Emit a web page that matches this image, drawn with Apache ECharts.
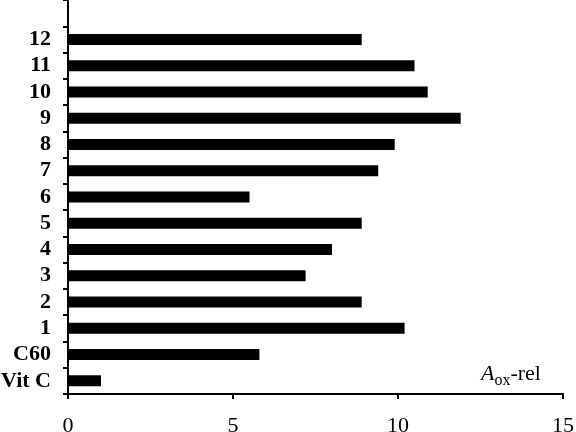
<!DOCTYPE html>
<html>
<head>
<meta charset="utf-8">
<script src="https://cdn.jsdelivr.net/npm/echarts@6/dist/echarts.min.js"></script>
<style>
  html, body { margin: 0; padding: 0; background: #fff; }
  #chart { width: 576px; height: 432px; }
</style>
</head>
<body>
<div id="chart"></div>
<script>
// categories bottom -> top; last slot is left empty in the original
const categories = ['Vit C', 'C60', '1', '2', '3', '4', '5', '6', '7', '8', '9', '10', '11', '12', '']
const aoxRel = [1.0, 5.8, 10.2, 8.9, 7.2, 8.0, 8.9, 5.5, 9.4, 9.9, 11.9, 10.9, 10.5, 8.9, null]
const xTicks = [0, 5, 10, 15]

const serif = '"Liberation Serif", "Times New Roman", serif'

const chart = echarts.init(document.getElementById('chart'))

chart.setOption({
  animation: false,
  backgroundColor: '#fff',
  grid: { left: 68, right: 13, top: 0, bottom: 38, containLabel: false, outerBoundsMode: 'none' },
  xAxis: {
    type: 'value',
    min: xTicks[0],
    max: xTicks[xTicks.length - 1],
    interval: 5,
    axisLine: { show: true, lineStyle: { color: '#000', width: 2 } },
    axisTick: { show: true, inside: false, length: 5, lineStyle: { color: '#000', width: 2 } },
    axisLabel: { color: '#000', fontFamily: serif, fontSize: 22, margin: 21 },
    splitLine: { show: false }
  },
  yAxis: {
    type: 'category',
    data: categories,
    axisLine: { show: true, lineStyle: { color: '#000', width: 2 } },
    axisTick: { show: true, inside: false, length: 5, interval: 0, lineStyle: { color: '#000', width: 2 } },
    axisLabel: {
      interval: 0, color: '#000', fontFamily: serif, fontSize: 22, fontWeight: 'bold',
      margin: 17, padding: [6, 0, 0, 0]
    },
    splitLine: { show: false }
  },
  series: [
    {
      type: 'bar',
      data: aoxRel,
      barWidth: 11,
      itemStyle: { color: '#000' }
    }
  ],
  graphic: [
    {
      type: 'text',
      left: 481,
      top: 363,
      style: {
        text: '{a|A}{s|ox}{r|-rel}',
        rich: {
          a: { fontFamily: serif, fontSize: 22, fontStyle: 'italic', fill: '#000', verticalAlign: 'bottom' },
          s: { fontFamily: serif, fontSize: 16, fill: '#000', verticalAlign: 'bottom', padding: [0, 0, -4, 0] },
          r: { fontFamily: serif, fontSize: 22, fill: '#000', verticalAlign: 'bottom' }
        }
      }
    }
  ]
})
</script>
</body>
</html>
